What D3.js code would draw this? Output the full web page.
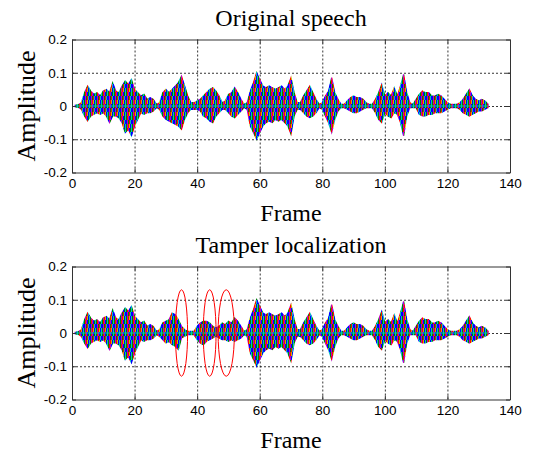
<!DOCTYPE html>
<html>
<head>
<meta charset="utf-8">
<script src="https://cdn.jsdelivr.net/npm/d3@7"></script>
<style>
body { margin: 0; background: #fff; }
svg { display: block; }
.tick text { font-family: "Liberation Sans", Arial, sans-serif; font-size: 13.5px; fill: #000; }
.label { font-family: "Liberation Serif", "Times New Roman", serif; fill: #000; }
</style>
</head>
<body>
<svg id="chart" width="534" height="452"></svg>
<script>
// frame index 1..133
var frames = d3.range(1, 134);

// envelope of the framed speech (max / min amplitude per frame)
var origUpper = [0.002, 0.004, 0.01, 0.04, 0.06, 0.045, 0.035, 0.04, 0.03, 0.045,
  0.05, 0.04, 0.07, 0.045, 0.04, 0.06, 0.075, 0.065, 0.08, 0.05,
  0.04, 0.03, 0.035, 0.02, 0.025, 0.02, 0.005, 0.01, 0.04, 0.05,
  0.04, 0.05, 0.06, 0.07, 0.09, 0.06, 0.03, 0.01, 0.01, 0.015,
  0.02, 0.03, 0.04, 0.05, 0.055, 0.045, 0.03, 0.01, 0.015, 0.035,
  0.04, 0.055, 0.04, 0.02, 0.005, 0.01, 0.045, 0.07, 0.1, 0.08,
  0.06, 0.055, 0.06, 0.055, 0.05, 0.055, 0.06, 0.05, 0.06, 0.085,
  0.04, 0.01, 0.01, 0.03, 0.045, 0.06, 0.04, 0.02, 0.005, 0.01,
  0.03, 0.045, 0.085, 0.04, 0.02, 0.005, 0.005, 0.015, 0.025, 0.03,
  0.025, 0.025, 0.02, 0.01, 0.005, 0.005, 0.02, 0.04, 0.065, 0.03,
  0.04, 0.03, 0.055, 0.03, 0.06, 0.095, 0.04, 0.01, 0.005, 0.02,
  0.035, 0.045, 0.04, 0.04, 0.03, 0.03, 0.035, 0.03, 0.02, 0.01,
  0.005, 0.005, 0.005, 0.01, 0.02, 0.035, 0.05, 0.03, 0.02, 0.015,
  0.02, 0.015, 0.005];

var origLower = [-0.002, -0.004, -0.01, -0.03, -0.045, -0.03, -0.025, -0.02, -0.025, -0.02,
  -0.03, -0.05, -0.03, -0.03, -0.035, -0.05, -0.08, -0.07, -0.09, -0.06,
  -0.04, -0.02, -0.025, -0.02, -0.02, -0.015, -0.005, -0.01, -0.03, -0.04,
  -0.045, -0.05, -0.055, -0.06, -0.07, -0.04, -0.02, -0.01, -0.01, -0.01,
  -0.015, -0.03, -0.035, -0.045, -0.05, -0.03, -0.02, -0.01, -0.01, -0.02,
  -0.03, -0.035, -0.025, -0.015, -0.005, -0.01, -0.06, -0.08, -0.1, -0.08,
  -0.06, -0.05, -0.045, -0.05, -0.04, -0.045, -0.04, -0.05, -0.06, -0.085,
  -0.03, -0.01, -0.01, -0.02, -0.03, -0.035, -0.03, -0.02, -0.005, -0.01,
  -0.03, -0.05, -0.08, -0.04, -0.015, -0.005, -0.005, -0.01, -0.015, -0.02,
  -0.02, -0.015, -0.01, -0.005, -0.005, -0.005, -0.02, -0.04, -0.05, -0.02,
  -0.03, -0.035, -0.02, -0.025, -0.05, -0.09, -0.03, -0.005, -0.005, -0.005,
  -0.025, -0.03, -0.03, -0.025, -0.025, -0.02, -0.02, -0.02, -0.015, -0.01,
  -0.005, -0.005, -0.005, -0.01, -0.02, -0.025, -0.03, -0.025, -0.02, -0.015,
  -0.015, -0.01, -0.005];

// frames 28..56 differ in the tampered signal
var tamperStart = 28;
var tamperUpper = [0.01, 0.03, 0.035, 0.04, 0.06, 0.055, 0.04, 0.02, 0.01, 0.005,
  0.005, 0.005, 0.02, 0.03, 0.035, 0.035, 0.03, 0.02, 0.015, 0.02,
  0.03, 0.025, 0.035, 0.03, 0.045, 0.035, 0.02, 0.005, 0.01];
var tamperLower = [-0.01, -0.02, -0.03, -0.025, -0.035, -0.04, -0.05, -0.015, -0.01, -0.005,
  -0.005, -0.005, -0.02, -0.03, -0.035, -0.025, -0.02, -0.015, -0.01, -0.015,
  -0.02, -0.02, -0.025, -0.02, -0.025, -0.02, -0.015, -0.005, -0.01];

// red ellipses marking the detected tampering
var markFrames = [35, 44, 49.3];
var markHalfWidth = [1.95, 2.05, 2.6];
var markHalfHeight = 0.13;

var xTicks = [0, 20, 40, 60, 80, 100, 120, 140];
var yTicks = [-0.2, -0.1, 0, 0.1, 0.2];

// matlab default line colours
var lineColors = ["#0000ff", "#008000", "#ff0000", "#00bfbf", "#bf00bf", "#bfbf00", "#404040"];

var svg = d3.select("#chart");

// tile of short vertical strokes, so the filled envelope reads as many overlapping traces
var tileOrder = [0, 4, 1, 2, 3, 0, 1, 4, 2, 5, 0, 3, 1, 2, 4, 0, 1, 3];
var tileW = 6, tileRows = 3, segH = 4;
var cells = tileOrder.map(function(k, i) {
    return { c: i % tileW, r: Math.floor(i / tileW), k: k };
});
var pat = svg.append("defs").append("pattern")
    .attr("id", "lines")
    .attr("patternUnits", "userSpaceOnUse")
    .attr("width", tileW)
    .attr("height", tileRows * segH);
pat.selectAll("rect")
    .data(cells)
    .enter().append("rect")
    .attr("x", function(d) { return d.c; })
    .attr("y", function(d) { return d.r * segH; })
    .attr("width", 1)
    .attr("height", segH)
    .attr("fill", function(d) { return lineColors[d.k]; });

function tampered(arr, repl) {
    var out = arr.slice();
    repl.forEach(function(v, i) { out[tamperStart - 1 + i] = v; });
    return out;
}

var panels = [
    { title: "Original speech", top: 39.5, upper: origUpper, lower: origLower, marks: false },
    { title: "Tamper localization", top: 266.5,
      upper: tampered(origUpper, tamperUpper), lower: tampered(origLower, tamperLower), marks: true }
];

var left = 72, right = 510, height = 133;

var x = d3.scaleLinear().domain([0, 140]).range([left, right]);

panels.forEach(function(p) {
    var y = d3.scaleLinear().domain([-0.2, 0.2]).range([p.top + height, p.top]);
    var g = svg.append("g");

    // grid
    g.append("g")
        .attr("transform", "translate(0," + (p.top + height) + ")")
        .call(d3.axisBottom(x).tickValues([20, 40, 60, 80, 100, 120]).tickSize(-height).tickFormat(""))
        .call(function(s) {
            s.select(".domain").remove();
            s.selectAll("line").attr("stroke", "#000").attr("stroke-dasharray", "2,2").attr("stroke-width", 0.8);
        });
    g.append("g")
        .attr("transform", "translate(" + left + ",0)")
        .call(d3.axisLeft(y).tickValues([-0.1, 0, 0.1]).tickSize(-(right - left)).tickFormat(""))
        .call(function(s) {
            s.select(".domain").remove();
            s.selectAll("line").attr("stroke", "#000").attr("stroke-dasharray", "2,2").attr("stroke-width", 0.8);
        });

    var data = frames.map(function(f, i) { return { f: f, hi: p.upper[i], lo: p.lower[i] }; });

    var area = d3.area()
        .x(function(d) { return x(d.f); })
        .y0(function(d) { return y(d.lo); })
        .y1(function(d) { return y(d.hi); });

    g.append("path")
        .datum(data)
        .attr("d", area)
        .attr("fill", "url(#lines)")
        .attr("stroke", "url(#lines)")
        .attr("stroke-width", 1.2);

    // centre trace
    g.append("path")
        .datum(data)
        .attr("d", d3.line().x(function(d) { return x(d.f); }).y(function() { return y(0); }))
        .attr("fill", "none")
        .attr("stroke", "#00bfbf")
        .attr("stroke-width", 1);

    if (p.marks) {
        g.selectAll(".mark")
            .data(markFrames)
            .enter().append("ellipse")
            .attr("class", "mark")
            .attr("cx", function(d) { return x(d); })
            .attr("cy", y(0))
            .attr("rx", function(d, i) { return x(markHalfWidth[i]) - x(0); })
            .attr("ry", y(0) - y(markHalfHeight))
            .attr("fill", "none")
            .attr("stroke", "#ff0000")
            .attr("stroke-width", 1);
    }

    // box with inward ticks
    var axisColor = "#333";
    function styleAxis(s) {
        s.select(".domain").attr("stroke", axisColor);
        s.selectAll(".tick line").attr("stroke", axisColor);
    }
    g.append("g")
        .attr("transform", "translate(0," + (p.top + height) + ")")
        .call(d3.axisBottom(x).tickValues(xTicks).tickSizeInner(-4).tickSizeOuter(0).tickPadding(6))
        .call(styleAxis);
    g.append("g")
        .attr("transform", "translate(0," + p.top + ")")
        .call(d3.axisTop(x).tickValues(xTicks).tickSizeInner(-4).tickSizeOuter(0).tickFormat(""))
        .call(styleAxis);
    g.append("g")
        .attr("transform", "translate(" + left + ",0)")
        .call(d3.axisLeft(y).tickValues(yTicks).tickSizeInner(-4).tickSizeOuter(0).tickPadding(5)
            .tickFormat(function(d) { return String(+d.toFixed(1)); }))
        .call(styleAxis);
    g.append("g")
        .attr("transform", "translate(" + right + ",0)")
        .call(d3.axisRight(y).tickValues(yTicks).tickSizeInner(-4).tickSizeOuter(0).tickFormat(""))
        .call(styleAxis);

    g.selectAll(".tick text").attr("font-family", null).attr("font-size", null);

    // labels
    g.append("text")
        .attr("class", "label")
        .attr("x", (left + right) / 2)
        .attr("y", p.top - 13.5)
        .attr("text-anchor", "middle")
        .attr("font-size", 24)
        .text(p.title);
    g.append("text")
        .attr("class", "label")
        .attr("x", (left + right) / 2)
        .attr("y", p.top + height + 48)
        .attr("text-anchor", "middle")
        .attr("font-size", 24)
        .text("Frame");
    g.append("text")
        .attr("class", "label")
        .attr("transform", "translate(35," + (p.top + height / 2) + ") rotate(-90)")
        .attr("text-anchor", "middle")
        .attr("font-size", 26)
        .text("Amplitude");
});
</script>
</body>
</html>
